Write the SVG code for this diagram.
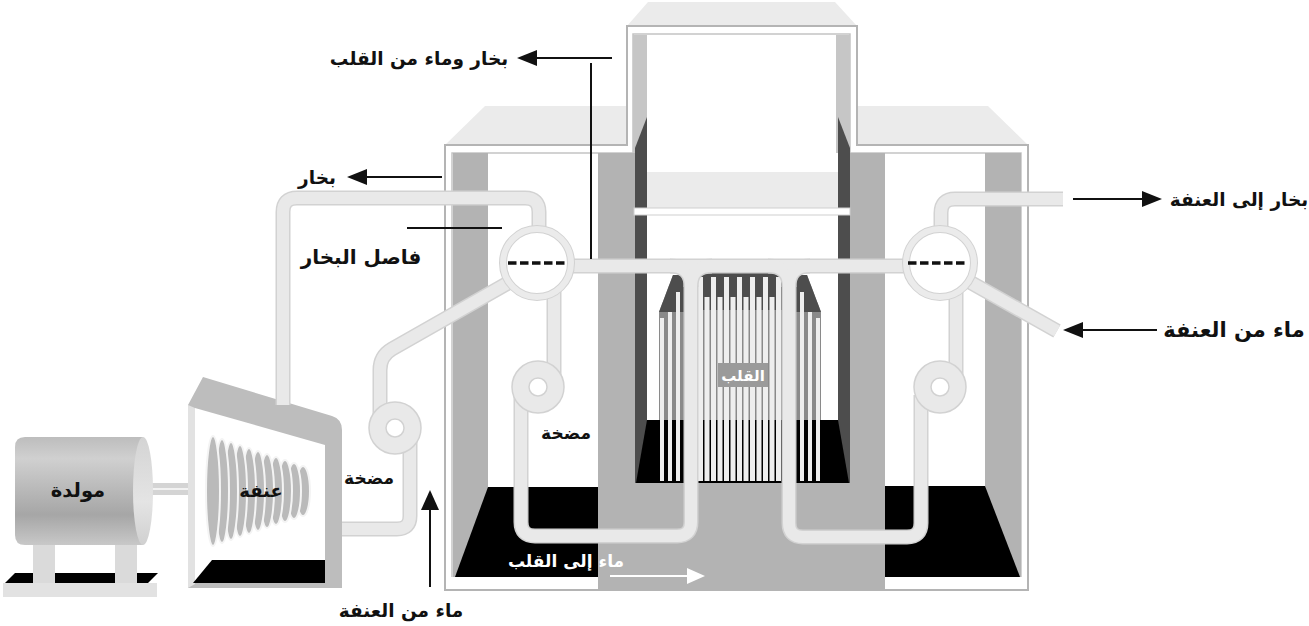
<svg xmlns="http://www.w3.org/2000/svg" xmlns:xlink="http://www.w3.org/1999/xlink" width="1309" height="626" viewBox="0 0 1309 626">
<style>
.lbl{font-family:"DejaVu Sans","Noto Sans",sans-serif;font-weight:bold;font-size:18.5px;fill:#111;text-anchor:middle}
.wl{fill:#fff}
.pe{fill:none;stroke:#d2d2d2;stroke-width:15}
.pi{fill:none;stroke:#e9e9e9;stroke-width:12}
.pump{fill:#e9e9e9;stroke:#d2d2d2;stroke-width:1.5}
.eye{fill:#fff;stroke:#d2d2d2;stroke-width:1.5}
.mg{fill:#b3b3b3}
.dg{fill:#4d4d4d}
.blk{fill:#000}
.rod{fill:#eeeeee}
.ln{stroke:#111;stroke-width:2;fill:none}
.ah{fill:#111}
</style>
<defs>
<linearGradient id="gen" x1="0" y1="0" x2="0" y2="1">
<stop offset="0" stop-color="#bdbdbd"/>
<stop offset="0.2" stop-color="#d0d0d0"/>
<stop offset="0.72" stop-color="#a6a6a6"/>
<stop offset="1" stop-color="#c8c8c8"/>
</linearGradient>
<linearGradient id="genend" x1="0" y1="0" x2="0" y2="1">
<stop offset="0" stop-color="#d4d4d4"/>
<stop offset="0.6" stop-color="#e4e4e4"/>
<stop offset="1" stop-color="#d0d0d0"/>
</linearGradient>
<path id="p1" d="M539,235 L539,212 Q539,198 525,198 L297,198 Q283,198 283,212 L283,405"/>
<path id="p2" d="M570,266 L908,266"/>
<path id="p3" d="M670,266 Q691,266 691,287 L691,522 Q691,536 677,536 L535,536 Q521,536 521,522 L521,395"/>
<path id="p3b" d="M712,266 Q691,266 691,287"/>
<path id="p4" d="M768,266 Q789,266 789,287 L789,523 Q789,537 803,537 L907,537 Q921,537 921,523 L921,395"/>
<path id="p4b" d="M810,266 Q789,266 789,287"/>
<path id="p5" d="M554,290 L554,375"/>
<path id="p6" d="M508,283 L392,349 Q380,356 380,370 L380,420"/>
<path id="p7" d="M410,440 L410,516 Q410,529 397,529 L342,529"/>
<path id="p8" d="M941,232 L941,213 Q941,199 955,199 L1063,199"/>
<path id="p9" d="M968,281 L1057,331"/>
<path id="p10" d="M956,290 L956,375"/>
</defs>

<g id="generator">
<polygon class="blk" points="5,583 15,573 33,573 33,583"/>
<polygon class="blk" points="45,583 55,573 115,573 115,583"/>
<polygon class="blk" points="128,583 137,573 158,573 148,583"/>
<rect x="3" y="583" width="154" height="14" fill="#e2e2e2"/>
<rect x="33" y="545" width="22" height="38" fill="#dadada"/>
<rect x="115" y="545" width="22" height="38" fill="#dadada"/>
<rect x="147" y="483" width="60" height="12" fill="#d4d4d4"/>
<line x1="147" y1="489" x2="207" y2="489" stroke="#f2f2f2" stroke-width="2"/>
<path d="M25,437 L143,437 L143,545 L25,545 Q15,545 15,535 L15,447 Q15,437 25,437 Z" fill="url(#gen)"/>
<ellipse cx="143" cy="491" rx="10" ry="54" fill="url(#genend)"/>
<text class="lbl" x="78" y="497" style="font-size:19.5px">مولدة</text>
</g>

<g id="turbine">
<path d="M188,588 L188,405 L203,377 L332,416 Q342,419 342,430 L342,588 Z" fill="#bdbdbd"/>
<polygon points="188,405 195,408 195,584 188,588" fill="#e2e2e2"/>
<polygon points="195,408 325,445 325,583 195,583" fill="#fff"/>
<polygon class="blk" points="212,560 325,560 325,583 193,583"/>
<g fill="#bababa" stroke="#f4f4f4" stroke-width="2">
<ellipse cx="303" cy="491" rx="7" ry="25"/>
<ellipse cx="294" cy="491" rx="7" ry="28"/>
<ellipse cx="285" cy="491" rx="7" ry="31"/>
<ellipse cx="276" cy="491" rx="7" ry="34"/>
<ellipse cx="267" cy="491" rx="7" ry="37"/>
<ellipse cx="258" cy="491" rx="7" ry="40"/>
<ellipse cx="249" cy="491" rx="7" ry="43"/>
<ellipse cx="240" cy="491" rx="7" ry="46"/>
<ellipse cx="231" cy="491" rx="7" ry="49"/>
<ellipse cx="222" cy="491" rx="7" ry="52"/>
<ellipse cx="213" cy="491" rx="7" ry="55"/>
</g>
<text class="lbl" x="261" y="497" style="font-size:18px">عنفة</text>
</g>

<g id="vessel">
<polygon points="445,145 485,106 988,106 1028,145" fill="#ebebeb"/>
<polygon points="627,26 648,2 835,2 857,26" fill="#ebebeb"/>
<path d="M445,590 L445,145 L627,145 L627,26 L857,26 L857,145 L1028,145 L1028,590 Z" fill="#fff" stroke="#b4b4b4" stroke-width="2"/>
<path d="M452,577 L452,153 L633,153 L633,34 L850,34 L850,153 L1021,153 L1021,577" fill="none" stroke="#c4c4c4" stroke-width="1.5"/>
<rect class="mg" x="453" y="153" width="35" height="424"/>
<rect class="mg" x="985" y="153" width="36" height="424"/>
<rect class="mg" x="598" y="153" width="37" height="437"/>
<rect class="mg" x="850" y="153" width="35" height="437"/>
<rect class="mg" x="598" y="483" width="287" height="107"/>
<polygon class="blk" points="488,487 598,487 598,577 455,577"/>
<polygon class="blk" points="885,486 985,486 1020,577 885,577"/>
<rect x="633" y="35" width="14" height="118" fill="#c6c6c6"/>
<rect x="836" y="35" width="14" height="118" fill="#c6c6c6"/>
<polygon class="dg" points="647,117 647,483 635,483 635,148"/>
<polygon class="dg" points="838,117 850,148 850,483 838,483"/>
<rect x="647" y="172" width="191" height="36" fill="#ebebeb"/>
<rect x="634" y="208" width="216" height="7" fill="#fff" stroke="#cfcfcf" stroke-width="1"/>
</g>

<g id="core">
<rect x="697" y="273" width="86" height="147" fill="#8a8a8a"/>
<rect class="dg" x="697" y="273" width="86" height="37"/>
<polygon points="673,275 685,275 685,420 659,420 659,312" fill="#8a8a8a"/>
<polygon class="dg" points="673,275 685,275 685,312 659,312"/>
<polygon points="795,275 807,275 821,312 821,420 795,420" fill="#8a8a8a"/>
<polygon class="dg" points="795,275 807,275 821,312 795,312"/>
<polygon class="blk" points="647,420 838,420 849,483 636,483"/>
<g class="rod">
<rect x="698" y="277" width="5" height="204"/>
<rect x="711" y="277" width="5" height="204"/>
<rect x="724" y="277" width="5" height="204"/>
<rect x="737" y="277" width="5" height="204"/>
<rect x="750" y="277" width="5" height="204"/>
<rect x="763" y="277" width="5" height="204"/>
<rect x="776" y="277" width="5" height="204"/>
<rect x="704.5" y="297" width="5" height="184"/>
<rect x="717.5" y="297" width="5" height="184"/>
<rect x="730.5" y="297" width="5" height="184"/>
<rect x="743.5" y="297" width="5" height="184"/>
<rect x="756.5" y="297" width="5" height="184"/>
<rect x="769.5" y="297" width="5" height="184"/>
<rect x="660" y="318" width="4" height="163"/>
<rect x="668" y="312" width="4" height="169"/>
<rect x="676" y="292" width="4" height="189"/>
<rect x="800" y="292" width="4" height="189"/>
<rect x="808" y="312" width="4" height="169"/>
<rect x="816" y="318" width="4" height="163"/>
</g>
</g>

<g id="connectors">
<use xlink:href="#p1" class="pe"/>
<use xlink:href="#p2" class="pe"/>
<use xlink:href="#p3" class="pe"/>
<use xlink:href="#p3b" class="pe"/>
<use xlink:href="#p4" class="pe"/>
<use xlink:href="#p4b" class="pe"/>
<use xlink:href="#p5" class="pe"/>
<use xlink:href="#p6" class="pe"/>
<use xlink:href="#p7" class="pe"/>
<use xlink:href="#p8" class="pe"/>
<use xlink:href="#p9" class="pe"/>
<use xlink:href="#p10" class="pe"/>
<use xlink:href="#p1" class="pi"/>
<use xlink:href="#p2" class="pi"/>
<use xlink:href="#p3" class="pi"/>
<use xlink:href="#p3b" class="pi"/>
<use xlink:href="#p4" class="pi"/>
<use xlink:href="#p4b" class="pi"/>
<use xlink:href="#p5" class="pi"/>
<use xlink:href="#p6" class="pi"/>
<use xlink:href="#p7" class="pi"/>
<use xlink:href="#p8" class="pi"/>
<use xlink:href="#p9" class="pi"/>
<use xlink:href="#p10" class="pi"/>
</g>

<g id="core-label">
<rect x="718" y="363" width="50" height="24" fill="#9a9a9a"/>
<text class="lbl wl" x="743" y="381" style="font-size:15px">القلب</text>
</g>

<g id="pump-left-outer">
<circle class="pump" cx="395" cy="428" r="26"/>
<circle class="eye" cx="395" cy="428" r="9"/>
</g>
<g id="pump-left-inner">
<circle class="pump" cx="538" cy="387" r="26"/>
<circle class="eye" cx="538" cy="387" r="9"/>
</g>
<g id="pump-right-inner">
<circle class="pump" cx="940" cy="387" r="26"/>
<circle class="eye" cx="940" cy="387" r="9"/>
</g>

<g id="separator-left">
<circle cx="537" cy="263" r="34" fill="#fff" stroke="#d2d2d2" stroke-width="8"/>
<circle cx="537" cy="263" r="34" fill="none" stroke="#ebebeb" stroke-width="6"/>
<line x1="508" y1="263" x2="567" y2="263" stroke="#111" stroke-width="3.5" stroke-dasharray="8.5,3.5"/>
</g>
<g id="separator-right">
<circle cx="940" cy="263" r="34" fill="#fff" stroke="#d2d2d2" stroke-width="8"/>
<circle cx="940" cy="263" r="34" fill="none" stroke="#ebebeb" stroke-width="6"/>
<line x1="908" y1="263" x2="968" y2="263" stroke="#111" stroke-width="3.5" stroke-dasharray="8.5,3.5"/>
</g>

<g id="labels">
<line class="ln" x1="530" y1="58" x2="612" y2="58"/>
<polygon class="ah" points="517,58 537,50 537,66"/>
<line class="ln" x1="591" y1="63" x2="591" y2="259"/>
<text class="lbl" x="419" y="65">بخار وماء من القلب</text>

<line class="ln" x1="360" y1="177" x2="442" y2="177"/>
<polygon class="ah" points="347,177 367,169 367,185"/>
<text class="lbl" x="317" y="184">بخار</text>

<line class="ln" x1="407" y1="228" x2="502" y2="228"/>
<text class="lbl" x="361" y="264" style="font-size:20px">فاصل البخار</text>

<line class="ln" x1="1073" y1="199" x2="1150" y2="199"/>
<polygon class="ah" points="1162,199 1142,191 1142,207"/>
<text class="lbl" x="1239" y="206">بخار إلى العنفة</text>

<line class="ln" x1="1075" y1="330" x2="1157" y2="330"/>
<polygon class="ah" points="1063,330 1083,322 1083,338"/>
<text class="lbl" x="1234" y="337" style="font-size:21px">ماء من العنفة</text>

<text class="lbl" x="369" y="484" style="font-size:17px">مضخة</text>
<text class="lbl" x="566" y="439" style="font-size:17px">مضخة</text>

<line class="ln" x1="430" y1="505" x2="430" y2="587"/>
<polygon class="ah" points="430,490 421,510 439,510"/>
<text class="lbl" x="401" y="617">ماء من العنفة</text>

<text class="lbl wl" x="566" y="567" style="font-size:17px">ماء إلى القلب</text>
<line x1="610" y1="576" x2="690" y2="576" stroke="#fff" stroke-width="2"/>
<polygon points="705,576 687,568 687,584" fill="#fff"/>
</g>
</svg>
